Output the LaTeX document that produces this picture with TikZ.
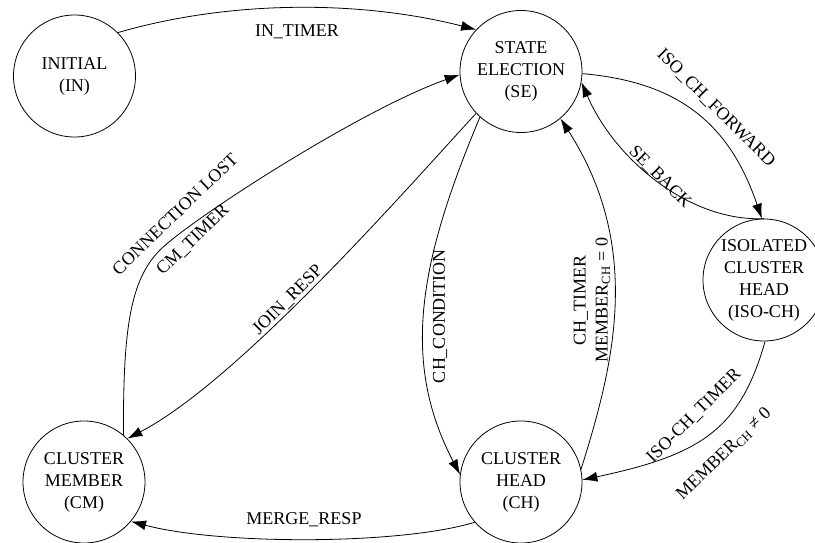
\documentclass[tikz,border=0pt]{standalone}
\usepackage{fontspec}
\setmainfont{Liberation Serif}
\usetikzlibrary{arrows.meta}
\begin{document}
\begin{tikzpicture}[x=1pt,y=-1pt,
  state/.style={draw, circle, line width=0.8pt, minimum size=122pt, inner sep=0pt,
    align=center, font=\fontsize{18}{22}\selectfont},
  lbl/.style={font=\fontsize{18}{22}\selectfont, inner sep=0pt, align=center},
  tr/.style={draw, line width=0.8pt, -{Latex[length=15pt,width=10pt]}}
]
\useasboundingbox (0,0) rectangle (815,542);

% states
\node[state] (IN)  at (74.5,76)  {INITIAL\\(IN)};
\node[state] (SE)  at (521,71.5) {STATE\\ELECTION\\(SE)};
\node[state] (ISO) at (764,280)  {ISOLATED\\CLUSTER\\HEAD\\(ISO-CH)};
\node[state] (CH)  at (521,482)  {CLUSTER\\HEAD\\(CH)};
\node[state] (CM)  at (84,482)   {CLUSTER\\MEMBER\\(CM)};

% transitions
\draw[tr] (IN.45) .. controls (230,0) and (360,0) .. (SE.137);
\draw[tr] (CM.50) .. controls (123,330) and (130,280) .. (160,250)
                  .. controls (190,220) and (360,110) .. (SE.183);
\draw[tr] (SE.223) .. controls (410,185) and (240,380) .. (CM.45);
\draw[tr] (SE.228) .. controls (420,260) and (400,360) .. (CH.173);
\draw[tr] (CH.12) .. controls (612,370) and (645,250) .. (SE.310);
\draw[tr] (SE.358) .. controls (680,82) and (730,125) .. (ISO.92);
\draw[tr] (ISO.90) .. controls (690,222) and (615,160) .. (SE.350);
\draw[tr] (ISO.271) .. controls (740,430) and (700,455) .. (CH.2);
\draw[tr] (CH.221) .. controls (400,545) and (220,545) .. (CM.320);

% transition labels
\node[lbl] (lIN) at (297,32) {IN\_TIMER};
\node[lbl, rotate=44] (lCL) at (175,214) {CONNECTION LOST};
\node[lbl, rotate=44] (lCMT) at (193,240) {CM\_TIMER};
\node[lbl, rotate=45] (lJR) at (288,300) {JOIN\_RESP};
\node[lbl, rotate=90] (lCC) at (440,316) {CH\_CONDITION};
\node[lbl, rotate=90] (lCT) at (592,300) {CH\_TIMER\\MEMBER\textsubscript{CH} = 0};
\node[lbl, rotate=-45] (lFW) at (716,108) {ISO\_CH\_FORWARD};
\node[lbl, rotate=-45] (lSB) at (660,177) {SE\_BACK};
\node[lbl, rotate=45] (lIT) at (694,416) {ISO-CH\_TIMER};
\node[lbl, rotate=44] (lMN) at (724,454) {MEMBER\textsubscript{CH} ≠ 0};
\node[lbl] (lMR) at (304,520) {MERGE\_RESP};
\end{tikzpicture}
\end{document}
